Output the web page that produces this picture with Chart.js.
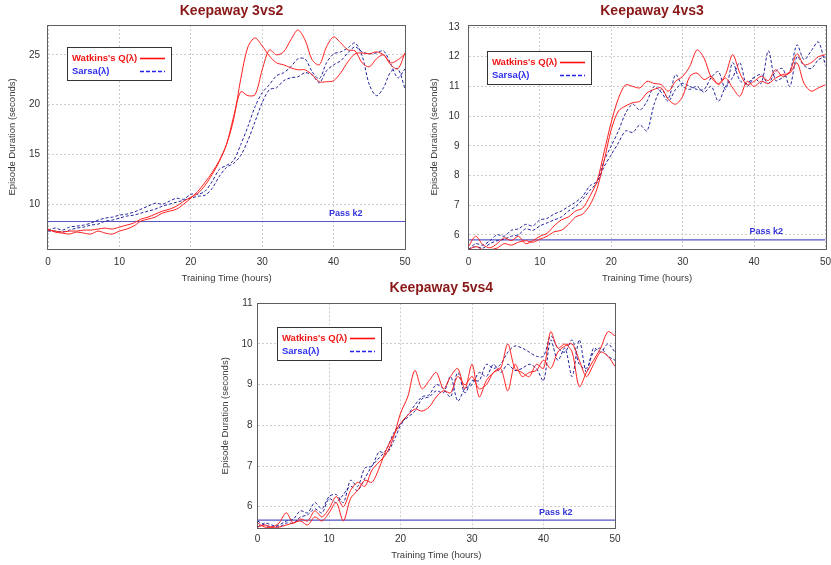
<!DOCTYPE html>
<html>
<head>
<meta charset="utf-8">
<script src="https://cdn.jsdelivr.net/npm/chart.js@4/dist/chart.umd.min.js"></script>
<style>
  html, body { margin: 0; padding: 0; background: #ffffff; width: 831px; height: 565px; overflow: hidden; }
  .panel { position: absolute; }
  .panel canvas { display: block; }
</style>
</head>
<body>
<div class="panel" style="left:0px;top:0px;width:415px;height:285px"><canvas id="k3v2" width="415" height="285"></canvas></div>
<div class="panel" style="left:415px;top:0px;width:416px;height:285px"><canvas id="k4v3" width="416" height="285"></canvas></div>
<div class="panel" style="left:215px;top:280px;width:420px;height:285px"><canvas id="k5v4" width="420" height="285"></canvas></div>
<script>
// Training time in hours (x axis of every panel)
const HOURS = [0,1,2,3,4,5,6,7,8,9,10,11,12,13,14,15,16,17,18,19,20,21,22,23,24,25,26,27,28,29,30,31,32,33,34,35,36,37,38,39,40,41,42,43,44,45,46,47,48,49,50];
const X_TICKS = [0, 10, 20, 30, 40, 50];

// Keepaway 3vs2 - mean episode duration (seconds)
const Q_3V2_RUN1 = [7.4,7.3,7.2,7.3,7.3,7.4,7.4,7.5,7.6,7.5, 7.7,7.9,8.1,8.5,8.7,9.0,9.3,9.5,9.8,10.3, 10.7,11.1,11.9,13.0,14.3,16.0,18.5,22.6,25.8,26.7, 25.9,24.9,24.2,24.0,23.7,23.5,23.5,23.0,22.3,22.3, 22.4,23.2,24.3,25.1,25.2,25.1,25.3,25.0,24.2,24.5, 25.1];
const Q_3V2_RUN2 = [7.5,7.2,7.1,7.0,7.2,7.1,7.0,7.3,7.1,7.0, 7.3,7.5,7.8,8.3,8.5,8.7,9.1,9.3,9.5,10.0, 10.6,11.3,12.2,13.2,14.4,16.0,18.8,21.3,20.9,21.0, 23.5,25.5,25.0,25.3,26.5,27.5,26.5,24.5,24.0,25.8, 26.8,26.2,25.5,25.4,24.2,23.8,24.6,25.0,24.0,23.6, 25.2];
const S_3V2_RUN1 = [7.4,7.6,7.4,7.7,7.8,7.9,8.1,8.4,8.6,8.7, 8.9,9.0,9.2,9.5,9.8,10.1,10.0,10.3,10.6,10.5, 11.0,11.0,11.3,12.3,13.5,13.9,14.4,16.0,17.8,19.8, 21.2,22.0,22.9,23.2,23.8,24.6,24.6,23.3,22.6,24.2, 25.1,25.3,25.7,26.2,24.9,22.0,20.9,21.7,23.3,23.6, 21.6];
const S_3V2_RUN2 = [7.3,7.3,7.2,7.4,7.6,7.7,7.9,8.0,8.3,8.4, 8.6,8.8,8.9,9.1,9.3,9.5,9.8,10.0,10.2,10.4, 10.6,10.8,10.9,11.6,12.8,13.7,14.1,14.9,16.4,18.3, 20.2,21.5,21.7,22.4,22.7,22.8,23.2,23.0,22.2,23.4, 24.0,24.4,25.2,25.8,25.3,25.1,25.2,25.4,24.1,22.7, 23.6];
const PASS_K2_3V2 = 8.26;
const Y_TICKS_3V2 = [10, 15, 20, 25];

// Keepaway 4vs3
const Q_4V3_RUN1 = [5.6,5.95,5.67,5.56,5.7,5.9,5.8,5.95,5.7,5.8, 5.95,6.05,6.3,6.5,6.6,6.8,6.9,7.3,7.8,8.8, 9.8,10.6,11.05,11.0,10.95,11.17,11.1,11.06,10.84,11.17, 11.34,11.68,12.23,11.95,11.3,11.1,11.4,12.07,11.45,11.06, 11.17,11.34,11.2,11.56,11.34,11.5,12.1,11.73,11.8,12.0, 12.07];
const Q_4V3_RUN2 = [5.5,5.6,5.5,5.5,5.55,5.7,5.65,5.75,5.8,5.75, 5.85,5.95,6.1,6.15,6.35,6.6,6.7,7.0,7.55,8.5, 9.55,10.17,10.34,10.45,10.5,10.78,10.9,10.95,10.56,10.4, 10.67,11.34,11.45,11.23,11.34,11.06,11.28,10.95,10.67,11.17, 11.0,11.17,11.1,11.28,11.4,11.45,11.79,11.1,10.84,10.95, 11.06];
const S_4V3_RUN1 = [5.5,5.7,5.65,5.8,6.0,5.95,6.15,6.2,6.35,6.3, 6.5,6.55,6.7,6.8,6.95,7.1,7.3,7.65,7.8,8.5, 9.0,9.5,10.1,10.4,10.2,10.5,11.0,10.8,10.5,10.9, 11.1,11.0,10.9,10.9,11.3,11.5,10.9,11.8,11.2,11.1, 11.3,11.1,12.2,11.2,11.3,11.5,12.4,11.9,12.2,12.5, 11.7];
const S_4V3_RUN2 = [5.5,5.6,5.55,5.7,5.8,5.85,5.95,6.0,6.2,6.15, 6.3,6.4,6.5,6.6,6.8,6.95,7.2,7.5,7.75,8.3, 8.7,9.1,9.5,9.45,9.7,9.5,10.4,10.9,10.6,11.4, 11.0,10.9,11.0,10.8,11.0,10.5,11.0,11.3,11.8,11.0, 11.3,11.4,11.1,11.5,11.6,11.0,12.0,11.7,11.6,11.9, 12.0];
const PASS_K2_4V3 = 5.83;
const Y_TICKS_4V3 = [6, 7, 8, 9, 10, 11, 12, 13];

// Keepaway 5vs4
const Q_5V4_RUN1 = [5.6,5.5,5.5,5.6,5.85,5.6,5.7,5.65,5.9,5.75, 5.95,6.25,6.0,6.4,6.6,6.5,6.9,7.1,7.3,7.7, 8.3,8.7,9.35,8.9,9.1,9.3,8.9,9.2,9.4,8.9, 9.5,8.7,9.1,9.3,9.4,10.0,9.4,9.3,9.2,9.5, 9.4,10.3,9.9,10.0,9.8,8.95,9.3,9.6,9.9,10.3, 10.2];
const Q_5V4_RUN2 = [5.5,5.55,5.5,5.5,5.55,5.6,5.65,5.55,5.75,5.65, 5.85,6.1,5.65,6.2,6.4,6.65,6.6,6.95,7.4,7.75, 8.05,8.25,8.4,8.35,8.45,8.7,8.85,8.8,9.2,9.0, 9.2,8.9,9.0,9.3,9.4,8.85,9.5,9.2,9.3,9.35, 9.6,9.4,9.8,9.95,10.0,9.6,9.2,9.5,9.8,9.7, 9.45];
const S_5V4_RUN1 = [5.65,5.55,5.5,5.55,5.65,5.7,5.9,5.85,6.1,5.95, 6.25,6.3,6.1,6.65,6.5,6.95,7.0,7.35,7.3,7.6, 8.0,8.25,8.5,8.7,8.75,9.0,8.9,8.7,9.3,8.8, 9.1,9.1,9.5,9.4,9.5,9.8,9.95,9.9,9.8,9.7, 9.7,10.2,9.9,9.8,10.1,9.5,9.4,9.8,9.9,9.7, 9.6];
const S_5V4_RUN2 = [5.5,5.6,5.55,5.5,5.6,5.6,5.75,5.8,5.95,5.85, 6.2,6.1,6.3,6.5,6.4,6.7,7.0,7.2,7.4,7.8, 8.05,8.2,8.35,8.65,8.7,8.85,8.8,9.2,8.6,8.9, 9.0,9.3,9.2,9.5,9.3,9.5,9.35,9.4,9.5,9.4, 9.1,10.1,9.6,9.9,9.2,10.1,9.3,9.9,9.8,10.0, 9.8];
const PASS_K2_5V4 = 5.67;
const Y_TICKS_5V4 = [6, 7, 8, 9, 10, 11];

const FONT = '"Liberation Sans", Arial, Helvetica, sans-serif';
const RED = '#ff1f1f';
const NAVY = '#23239c';

// Frame, key box, "Pass k2" caption and panel heading
const panelDecor = {
  id: 'panelDecor',
  beforeDatasetsDraw(chart, args, o) {
    const { ctx, chartArea: a } = chart;
    ctx.save();
    ctx.strokeStyle = '#5f5f5f';
    ctx.lineWidth = 1;
    ctx.strokeRect(Math.round(a.left) - 0.5, Math.round(a.top) + 0.5,
                   Math.round(a.right - a.left) + 1, Math.round(a.bottom - a.top));
    ctx.restore();
  },
  afterDatasetsDraw(chart, args, o) {
    const { ctx, chartArea: a, scales: { x, y } } = chart;
    ctx.save();
    // caption of the pass-k2 baseline
    ctx.font = 'bold 9px ' + FONT;
    ctx.fillStyle = '#3434dc';
    ctx.textAlign = 'center';
    ctx.textBaseline = 'middle';
    ctx.fillText('Pass k2', x.getPixelForValue(o.passAt), y.getPixelForValue(o.passLevel) - 8);

    // key box
    const bx = Math.round(a.left + o.keyDx), by = Math.round(a.top + o.keyDy);
    ctx.fillStyle = '#ffffff';
    ctx.fillRect(bx, by, 104, 33);
    ctx.strokeStyle = '#333333';
    ctx.lineWidth = 1;
    ctx.strokeRect(bx + 0.5, by + 0.5, 104, 33);
    ctx.textAlign = 'left';
    ctx.font = 'bold 9.5px ' + FONT;
    ctx.fillStyle = '#f01414';
    ctx.fillText("Watkins's Q(\u03bb)", bx + 5, by + 11.5);
    ctx.fillStyle = '#2e2ef0';
    ctx.fillText('Sarsa(\u03bb)', bx + 5, by + 24.5);
    ctx.lineWidth = 1.6;
    ctx.strokeStyle = '#ff1010';
    ctx.beginPath(); ctx.moveTo(bx + 73, by + 11.5); ctx.lineTo(bx + 98, by + 11.5); ctx.stroke();
    ctx.strokeStyle = '#2424ee';
    ctx.setLineDash([4, 2]);
    ctx.beginPath(); ctx.moveTo(bx + 73, by + 24.5); ctx.lineTo(bx + 98, by + 24.5); ctx.stroke();
    ctx.setLineDash([]);

    // heading
    ctx.font = 'bold 14px ' + FONT;
    ctx.fillStyle = '#8a1818';
    ctx.textAlign = 'center';
    ctx.textBaseline = 'alphabetic';
    ctx.fillText(o.heading, (a.left + a.right) / 2 + 5, o.headingY);
    ctx.restore();
  }
};

function runSet(label, values, isQ) {
  return {
    label: label,
    data: values,
    borderColor: isQ ? RED : NAVY,
    borderWidth: 1,
    borderDash: isQ ? [] : [3, 2],
    pointRadius: 0,
    tension: 0.3,
    fill: false
  };
}

function buildPanel(id, p) {
  const datasets = [
    runSet("Watkins's Q(\u03bb)", p.q1, true),
    runSet("Watkins's Q(\u03bb)", p.q2, true),
    runSet('Sarsa(\u03bb)', p.s1, false),
    runSet('Sarsa(\u03bb)', p.s2, false),
    {
      label: 'Pass k2',
      data: [{ x: HOURS[0], y: p.pass }, { x: HOURS[HOURS.length - 1], y: p.pass }],
      borderColor: '#5656c4',
      borderWidth: 1.2,
      pointRadius: 0,
      tension: 0
    }
  ];
  return new Chart(document.getElementById(id), {
    type: 'line',
    data: { labels: HOURS, datasets: datasets },
    plugins: [panelDecor],
    options: {
      responsive: false,
      animation: false,
      devicePixelRatio: 1,
      layout: { padding: p.pad },
      plugins: {
        legend: { display: false },
        title: { display: false },
        tooltip: { enabled: false },
        panelDecor: {
          heading: p.heading, headingY: p.headingY,
          keyDx: p.keyDx, keyDy: p.keyDy,
          passLevel: p.pass, passAt: 41.7
        }
      },
      scales: {
        x: {
          type: 'linear', min: 0, max: 50,
          afterBuildTicks: s => { s.ticks = X_TICKS.map(v => ({ value: v })); },
          afterFit: s => { s.height = p.xH; s.paddingLeft = 0; s.paddingRight = 0; },
          grid: { color: '#cdcdcd', lineWidth: 1, drawTicks: false },
          border: { display: false, dash: [2, 2] },
          ticks: { padding: p.xTickPad, color: '#333333', font: { family: FONT, size: 10 }, maxRotation: 0 },
          title: { display: true, text: 'Training Time (hours)', color: '#3a3a3a',
                   font: { family: FONT, size: 9.5 }, padding: { top: 0, bottom: p.xTitlePad } }
        },
        y: {
          type: 'linear', min: p.yMin, max: p.yMax,
          afterBuildTicks: s => { s.ticks = p.yTicks.map(v => ({ value: v })); },
          afterFit: s => { s.width = p.yW; s.paddingTop = 0; s.paddingBottom = 0; },
          grid: { color: '#cdcdcd', lineWidth: 1, drawTicks: false },
          border: { display: false, dash: [2, 2] },
          ticks: { padding: p.yTickPad, color: '#333333', font: { family: FONT, size: 10 } },
          title: { display: true, text: 'Episode Duration (seconds)', color: '#3a3a3a',
                   font: { family: FONT, size: 9.5 }, padding: { top: p.yTitlePad, bottom: 0 } }
        }
      }
    }
  });
}

buildPanel('k3v2', {
  heading: 'Keepaway 3vs2', headingY: 14.5,
  q1: Q_3V2_RUN1, q2: Q_3V2_RUN2, s1: S_3V2_RUN1, s2: S_3V2_RUN2, pass: PASS_K2_3V2,
  yMin: 5.5, yMax: 28, yTicks: Y_TICKS_3V2,
  pad: { left: 0, right: 10, top: 25, bottom: 0 },
  yW: 48, xH: 36, yTickPad: 8, yTitlePad: 7, xTickPad: 7, xTitlePad: 1.3,
  keyDx: 19.3, keyDy: 22.3
});

buildPanel('k4v3', {
  heading: 'Keepaway 4vs3', headingY: 14.5,
  q1: Q_4V3_RUN1, q2: Q_4V3_RUN2, s1: S_4V3_RUN1, s2: S_4V3_RUN2, pass: PASS_K2_4V3,
  yMin: 5.52, yMax: 13.07, yTicks: Y_TICKS_4V3,
  pad: { left: 0, right: 5.5, top: 25, bottom: 0 },
  yW: 53.5, xH: 36, yTickPad: 9, yTitlePad: 13.6, xTickPad: 7, xTitlePad: 1.3,
  keyDx: 18.8, keyDy: 25.7
});

buildPanel('k5v4', {
  heading: 'Keepaway 5vs4', headingY: 11.5,
  q1: Q_5V4_RUN1, q2: Q_5V4_RUN2, s1: S_5V4_RUN1, s2: S_5V4_RUN2, pass: PASS_K2_5V4,
  yMin: 5.47, yMax: 11, yTicks: Y_TICKS_5V4,
  pad: { left: 0, right: 20, top: 23.3, bottom: 0 },
  yW: 42.6, xH: 36.7, yTickPad: 5, yTitlePad: 4.3, xTickPad: 5, xTitlePad: 4,
  keyDx: 19.1, keyDy: 23.4
});
</script>
</body>
</html>
